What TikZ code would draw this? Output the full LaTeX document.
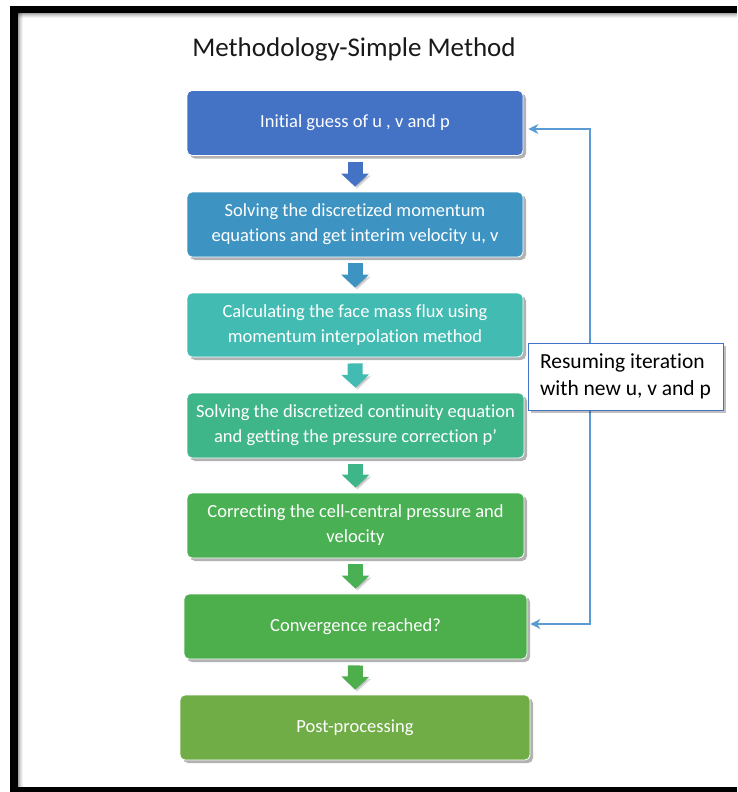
\documentclass[tikz,border=0pt]{standalone}
\usepackage{fontspec}
\setmainfont[Ligatures=CommonOff]{Carlito}
\usetikzlibrary{shadows,arrows.meta,calc}
\definecolor{cA}{HTML}{4472C4}
\definecolor{cB}{HTML}{3D94C3}
\definecolor{cC}{HTML}{42BBB2}
\definecolor{cD}{HTML}{3FB68A}
\definecolor{cE}{HTML}{4AB054}
\definecolor{cF}{HTML}{4DAE4C}
\definecolor{cG}{HTML}{70AD47}
\definecolor{fbline}{HTML}{5B9BD5}
\definecolor{lblborder}{HTML}{4472C4}
\tikzset{
  stepbox/.style={rounded corners=5pt, draw=white, line width=0.8pt, text=white,
    align=center, inner sep=0pt, minimum height=65pt, minimum width=336pt,
    font=\fontsize{18.5}{25}\selectfont,
    drop shadow={shadow xshift=3pt, shadow yshift=-3pt, opacity=0.3, fill=black}},
  blockarrow/.style={line width=15pt, -{Triangle[width=27pt,length=13pt]},
    preaction={draw=black, opacity=0.15, transform canvas={xshift=2pt,yshift=-2pt}}},
  fb/.style={draw=fbline, line width=2.4pt, {Stealth[length=10pt,width=10pt]}-{Stealth[length=10pt,width=10pt]}},
  lbl/.style={draw=lblborder, line width=0.8pt, fill=white, align=left, inner sep=0pt,
    minimum width=195pt, minimum height=67pt, text=black,
    font=\fontsize{21.5}{27}\selectfont,
    drop shadow={shadow xshift=3pt, shadow yshift=-3pt, opacity=0.25, fill=black}},
}
\begin{document}
\begin{tikzpicture}[x=1pt,y=-1pt]
\useasboundingbox (0,0) rectangle (737,792);
\fill[white] (0,0) rectangle (737,792);
% frame with inner shade
\foreach \i/\o in {0/0.35,1/0.25,2/0.17,3/0.1,4/0.05}{
  \fill[black,opacity=\o] (18+\i,13) rectangle (19+\i,787);
  \fill[black,opacity=\o] (18,13+\i) rectangle (737,14+\i);
}
\fill[black] (10,6) rectangle (737,13);
\fill[black] (10,6) rectangle (18,792);
\fill[black] (10,787) rectangle (737,792);
% title
\node[font=\fontsize{27}{30}\selectfont, text=black!90] (title) at (354,49) {Methodology-Simple Method};
% steps
\node[stepbox, fill=cA] (b1) at (355,123) {Initial guess of u , v and p};
\node[stepbox, fill=cB] (b2) at (355,224.5) {Solving the discretized momentum\\equations and get interim velocity u, v};
\node[stepbox, fill=cC, minimum height=64pt] (b3) at (355,325) {Calculating the face mass flux using\\momentum interpolation method};
\node[stepbox, fill=cD, minimum width=337pt] (b4) at (355.5,425.5) {Solving the discretized continuity equation\\and getting the pressure correction p’};
\node[stepbox, fill=cE, minimum width=337pt] (b5) at (355.5,525.5) {Correcting the cell-central pressure and\\velocity};
\node[stepbox, fill=cF, minimum width=343pt] (b6) at (355.5,626.5) {Convergence reached?};
\node[stepbox, fill=cG, minimum width=350pt] (b7) at (355,727.5) {Post-processing};
% block arrows
\draw[blockarrow, cA] ([yshift=-6pt]b1.south) -- ([yshift=5pt]b2.north);
\draw[blockarrow, cB] ([yshift=-6pt]b2.south) -- ([yshift=5pt]b3.north);
\draw[blockarrow, cC] ([yshift=-6pt]b3.south) -- ([yshift=5pt]b4.north);
\draw[blockarrow, cD] ([yshift=-6pt]b4.south) -- ([yshift=5pt]b5.north);
\draw[blockarrow, cE] ([yshift=-6pt]b5.south) -- ([yshift=5pt]b6.north);
\draw[blockarrow, cF] ([yshift=-6pt]b6.south) -- ([yshift=5pt]b7.north);
% feedback loop
\coordinate (loopx) at (590,0);
\coordinate (e1) at ([xshift=5pt,yshift=-6pt]b1.east);
\coordinate (e6) at ([xshift=3pt,yshift=2.5pt]b6.east);
\draw[fb] (e6) -- (e6 -| loopx) -- (e1 -| loopx) -- (e1);
\node[lbl] (label) at (625.5,376.5) {Resuming iteration\\with new u, v and p};
\end{tikzpicture}
\end{document}
